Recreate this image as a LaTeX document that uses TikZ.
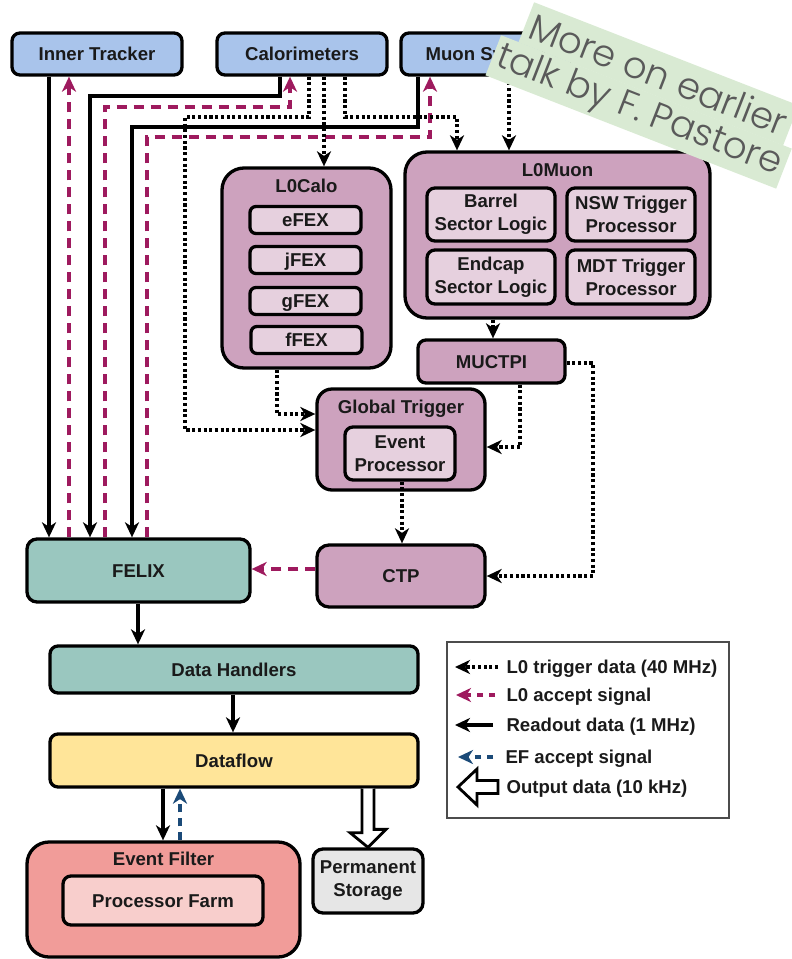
\documentclass[tikz,border=0pt]{standalone}
\usepackage{fontspec}
\setmainfont{Liberation Sans}
\IfFontExistsTF{Poppins Light}
  {\newfontfamily\bannerfont{Poppins Light}}
  {\newfontfamily\bannerfont{Poppins}}
\usetikzlibrary{arrows.meta,calc}

\definecolor{srcblue}{HTML}{A9C4EB}
\definecolor{trigpurple}{HTML}{CDA2BE}
\definecolor{trigpale}{HTML}{E6D0DE}
\definecolor{daqteal}{HTML}{9AC7BF}
\definecolor{flowyellow}{HTML}{FFE599}
\definecolor{efred}{HTML}{F19C99}
\definecolor{efpale}{HTML}{F8CECC}
\definecolor{storegray}{HTML}{E6E6E6}
\definecolor{accmag}{HTML}{9E1A5E}
\definecolor{efblue}{HTML}{1B4A78}
\definecolor{bandgreen}{HTML}{D9EAD3}
\definecolor{bandtext}{HTML}{5A5A5A}
\definecolor{ink}{HTML}{1A1A1A}

\begin{document}
\begin{tikzpicture}[x=1pt,y=-1pt,
  lbl/.style={font=\bfseries\fontsize{18.6}{23}\selectfont, text=ink, align=center},
  one/.style={text height=13.4pt, text depth=0pt},
  blk/.style={draw=black, line width=3.3pt, rounded corners=#1, inner sep=0pt, lbl},
  blk/.default=8pt,
  rd/.style={line width=3.1pt, -{Stealth[length=15pt,width=14pt,inset=4.5pt]}},
  trg/.style={rd, dash pattern=on 3.1pt off 2.6pt},
  acc/.style={rd, draw=accmag, dash pattern=on 10pt off 7pt},
  efa/.style={rd, draw=efblue, dash pattern=on 8pt off 6pt},
  hollow/.style={draw=black, fill=white, line width=2.8pt, line join=miter},
  band/.style={rotate=-21.3, anchor=north west, fill=bandgreen, inner sep=0pt,
    text=bandtext, font=\bannerfont\fontsize{37}{37}\selectfont}
]
\useasboundingbox (0,0) rectangle (792,959);

% detector sources
\node[blk, one, fill=srcblue, minimum width=170pt, minimum height=42pt] (itrk) at (97,54) {Inner Tracker};
\node[blk, one, fill=srcblue, minimum width=170pt, minimum height=42pt] (calo) at (302,54) {Calorimeters};
\node[blk, one, fill=srcblue, minimum width=170pt, minimum height=42pt] (muon) at (486,54) {Muon System};

% L0Calo
\node[blk=22pt, fill=trigpurple, minimum width=169pt, minimum height=200pt] (l0calo) at (306.5,268) {};
\node[lbl, one] (l0caloT) at (306.5,186) {L0Calo};
\node[blk=6pt, one, fill=trigpale, minimum width=111pt, minimum height=27pt] (efex) at (305.5,220) {eFEX};
\node[blk=6pt, one, fill=trigpale, minimum width=111pt, minimum height=27pt] (jfex) at (305.5,260) {jFEX};
\node[blk=6pt, one, fill=trigpale, minimum width=111pt, minimum height=27pt] (gfex) at (305.5,301) {gFEX};
\node[blk=6pt, one, fill=trigpale, minimum width=111pt, minimum height=27pt] (ffex) at (306.5,340) {fFEX};

% L0Muon
\node[blk=22pt, fill=trigpurple, minimum width=305pt, minimum height=166pt] (l0muon) at (557.5,235) {};
\node[lbl, one] (l0muonT) at (557.5,170) {L0Muon};
\node[blk=8pt, fill=trigpale, minimum width=128pt, minimum height=53pt] (barrel) at (491,214.5) {Barrel\\Sector Logic};
\node[blk=8pt, fill=trigpale, minimum width=128pt, minimum height=53pt] (nsw) at (631,214.5) {NSW Trigger\\Processor};
\node[blk=8pt, fill=trigpale, minimum width=128pt, minimum height=54pt] (endcap) at (491,277) {Endcap\\Sector Logic};
\node[blk=8pt, fill=trigpale, minimum width=128pt, minimum height=54pt] (mdt) at (631,277) {MDT Trigger\\Processor};

% central trigger chain
\node[blk, one, fill=trigpurple, minimum width=147pt, minimum height=43pt] (muctpi) at (491.5,361.5) {MUCTPI};
\node[blk=15pt, fill=trigpurple, minimum width=168pt, minimum height=101pt] (gt) at (401,439.5) {};
\node[lbl, one] (gtT) at (401,407) {Global Trigger};
\node[blk=8pt, fill=trigpale, minimum width=110pt, minimum height=53pt] (evp) at (400,453.5) {Event\\Processor};
\node[blk=12pt, one, fill=trigpurple, minimum width=168pt, minimum height=62pt] (ctp) at (401,576) {CTP};

% readout and dataflow
\node[blk=10pt, one, fill=daqteal, minimum width=223pt, minimum height=63pt] (felix) at (138.5,570.5) {FELIX};
\node[blk, one, fill=daqteal, minimum width=368pt, minimum height=47pt] (dh) at (234,669.5) {Data Handlers};
\node[blk, one, fill=flowyellow, minimum width=368pt, minimum height=53pt] (df) at (234,760.5) {Dataflow};
\node[blk=22pt, fill=efred, minimum width=273pt, minimum height=115pt] (ef) at (163.5,899.5) {};
\node[lbl, one] (efT) at (163.5,859) {Event Filter};
\node[blk, one, fill=efpale, minimum width=200pt, minimum height=49pt] (farm) at (163,900.5) {Processor Farm};
\node[blk=10pt, fill=storegray, minimum width=110pt, minimum height=64pt] (store) at (368,881) {Permanent\\Storage};

% readout data to FELIX
\draw[rd] (49,0 |- itrk.south) -- (49,0 |- felix.north);
\draw[rd] (280,0 |- calo.south) -- (280,96) -- (90,96) -- (90,0 |- felix.north);
\draw[rd] (418,0 |- muon.south) -- (418,127) -- (132,127) -- (132,0 |- felix.north);

% L0 accept back to the detectors
\draw[acc] (69,0 |- felix.north) -- (69,0 |- itrk.south);
\draw[acc] (105,0 |- felix.north) -- (105,107) -- (290,107) -- (290,0 |- calo.south);
\draw[acc] (147,0 |- felix.north) -- (147,137) -- (430,137) -- (430,0 |- muon.south);
\draw[acc] (ctp.west |- 0,569) -- (felix.east |- 0,569);

% L0 trigger data
\draw[trg] (309,0 |- calo.south) -- (309,117) -- (185,117) -- (185,430) -- (gt.west |- 0,430);
\draw[trg] (324,0 |- calo.south) -- (324,0 |- l0calo.north);
\draw[trg] (345,0 |- calo.south) -- (345,117) -- (457,117) -- (457,0 |- l0muon.north);
\draw[trg] (509,0 |- muon.south) -- (509,0 |- l0muon.north);
\draw[trg] (277,0 |- l0calo.south) -- (277,414) -- (gt.west |- 0,414);
\draw[trg] (493,0 |- l0muon.south) -- (493,0 |- muctpi.north);
\draw[trg] (520,0 |- muctpi.south) -- (520,447) -- (gt.east |- 0,447);
\draw[trg] (muctpi.east |- 0,363) -- (593,363) -- (593,576) -- (ctp.east |- 0,576);
\draw[trg] (402,0 |- evp.south) -- (402,0 |- ctp.north);

% dataflow chain
\draw[rd] (138,0 |- felix.south) -- (138,0 |- dh.north);
\draw[rd] (233,0 |- dh.south) -- (233,0 |- df.north);
\draw[rd] (163,0 |- df.south) -- (163,0 |- ef.north);
\draw[efa] (180,0 |- ef.north) -- (180,0 |- df.south);
\coordinate (tipS) at (store.north);
\draw[hollow] ([xshift=-6pt]tipS |- df.south) -- ++(0,44) -- ++(-12,0) -- (tipS)
  -- ++(18,-18) -- ++(-12,0) -- ([xshift=6pt]tipS |- df.south);

% legend
\node[draw=black!70, line width=1.4pt, minimum width=282pt, minimum height=176pt, inner sep=0pt] (legend) at (588,730) {};
\node[lbl, one, anchor=west] (lt1) at (503,667) {L0 trigger data (40 MHz)};
\node[lbl, one, anchor=west] (lt2) at (503,695) {L0 accept signal};
\node[lbl, one, anchor=west] (lt3) at (503,725) {Readout data (1 MHz)};
\node[lbl, one, anchor=west] (lt4) at (502,757) {EF accept signal};
\node[lbl, one, anchor=west] (lt5) at (503,787) {Output data (10 kHz)};
\draw[trg] ([xshift=-5pt]lt1.west) -- ([xshift=-48pt]lt1.west);
\draw[acc, dash pattern=on 6pt off 6pt] ([xshift=-8pt]lt2.west) -- ([xshift=-47pt]lt2.west);
\draw[rd] ([xshift=-10pt]lt3.west) -- ([xshift=-48pt]lt3.west);
\draw[efa, dash pattern=on 6pt off 6pt] ([xshift=-9pt]lt4.west) -- ([xshift=-44pt]lt4.west);
\draw[hollow] ([shift={(-5,-6.5)}]lt5.west) -- ++(-21,0) -- ++(0,-11.5) -- ++(-19,18)
  -- ++(19,18) -- ++(0,-11.5) -- ++(21,0) -- cycle;

% note banner
\node[band, minimum width=284pt, minimum height=43pt] (band1) at (534,2) {More on earlier};
\node[band, minimum width=312pt, minimum height=43pt] (band2) at (501,35) {talk by F. Pastore};
\end{tikzpicture}
\end{document}
